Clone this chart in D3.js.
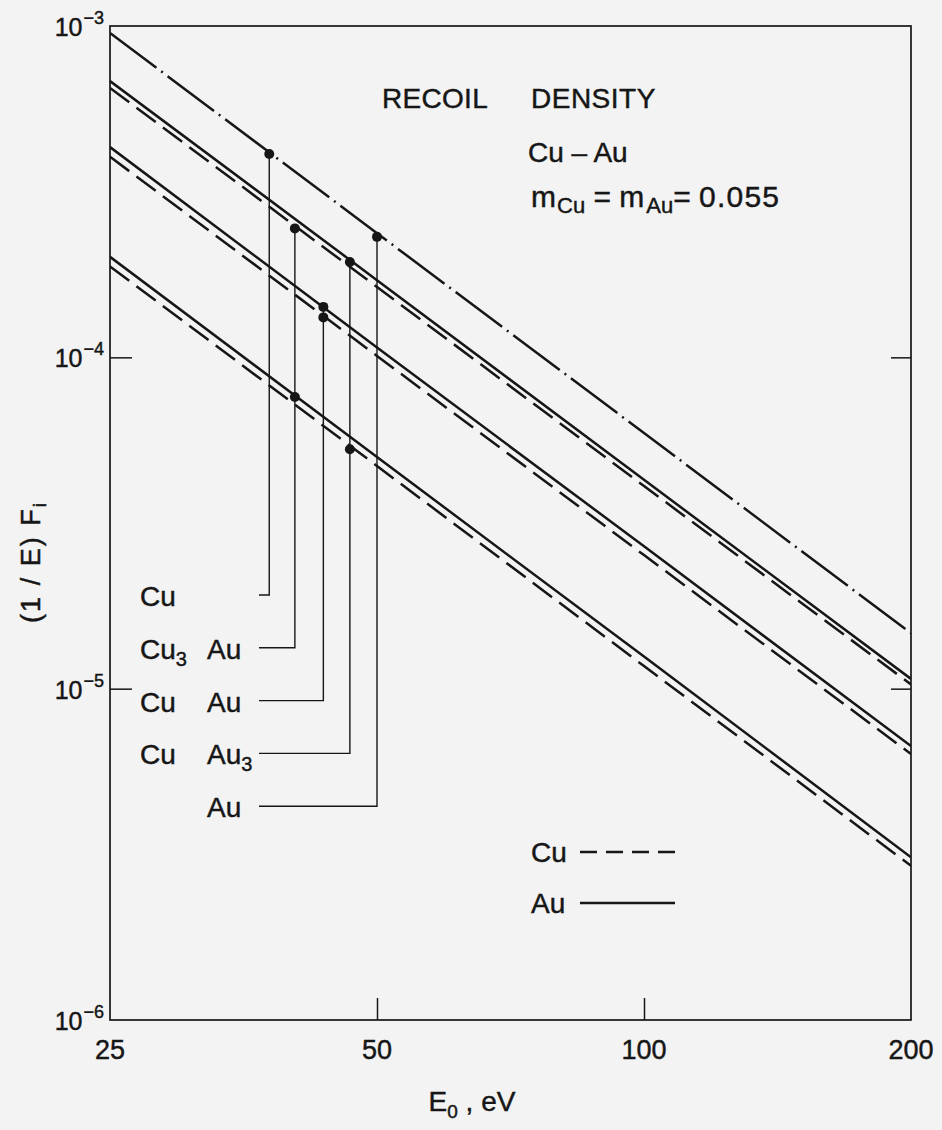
<!DOCTYPE html>
<html>
<head>
<meta charset="utf-8">
<script src="https://cdn.jsdelivr.net/npm/d3@7"></script>
<style>
  html, body { margin: 0; padding: 0; background: #f3f3f3; }
  svg { display: block; font-family: "Liberation Sans", Arial, sans-serif; }
  .lbl { fill: #161616; stroke: #161616; stroke-width: 0.45; }
</style>
</head>
<body>
<div id="chart"></div>
<script>
// values
const energies = [25, 50, 100, 200];
const xTickValues = [25, 50, 100, 200];
const yTickExps = [-3, -4, -5, -6];

const dashDotLine = [9.53e-4, 2.37e-4, 5.91e-5, 1.47e-5];
const auUpper = [6.82e-4, 1.71e-4, 4.27e-5, 1.07e-5];
const cuUpper = [6.5e-4, 1.63e-4, 4.09e-5, 1.03e-5];
const auMiddle = [4.31e-4, 1.07e-4, 2.69e-5, 6.71e-6];
const cuMiddle = [4.03e-4, 1.01e-4, 2.53e-5, 6.35e-6];
const auLower = [2.01e-4, 5.0e-5, 1.25e-5, 3.1e-6];
const cuLower = [1.88e-4, 4.7e-5, 1.17e-5, 2.92e-6];

const compounds = ["Cu", "Cu3Au", "CuAu", "CuAu3", "Au"];
const markerEnergies = [37.8, 40.4, 43.5, 46.6, 50.0];
const markerValues = [
  [4.11e-4],
  [2.45e-4, 7.59e-5],
  [1.42e-4, 1.32e-4],
  [1.94e-4, 5.28e-5],
  [2.31e-4]
];

const width = 942,
  height = 1130,
  margin = { top: 26, right: 31, bottom: 110, left: 110 },
  plotW = width - margin.left - margin.right,
  plotH = height - margin.top - margin.bottom;

const ink = "#161616";

const svg = d3
  .select("#chart")
  .append("svg")
  .attr("width", width)
  .attr("height", height);

const xScale = d3
  .scaleLog()
  .domain([25, 200])
  .range([0, plotW]);

const yScale = d3
  .scaleLog()
  .domain([1e-6, 1e-3])
  .range([plotH, 0]);

const chart = svg
  .append("g")
  .attr("transform", `translate(${margin.left}, ${margin.top})`);

chart
  .append("clipPath")
  .attr("id", "clip")
  .append("rect")
  .attr("width", plotW)
  .attr("height", plotH);

// inner ticks
const tickLen = 22;
chart
  .append("g")
  .call(d3.axisLeft(yScale).tickValues([1e-4, 1e-5]).tickSize(-tickLen).tickFormat(""))
  .call(g => g.select(".domain").remove());
chart
  .append("g")
  .attr("transform", `translate(${plotW}, 0)`)
  .call(d3.axisRight(yScale).tickValues([1e-4, 1e-5]).tickSize(-20).tickFormat(""))
  .call(g => g.select(".domain").remove());
chart
  .append("g")
  .attr("transform", `translate(0, ${plotH})`)
  .call(d3.axisBottom(xScale).tickValues([50, 100]).tickSize(-tickLen).tickFormat(""))
  .call(g => g.select(".domain").remove());
chart.selectAll(".tick line").attr("stroke", ink).attr("stroke-width", 1.5);

chart
  .append("rect")
  .attr("width", plotW)
  .attr("height", plotH)
  .attr("fill", "none")
  .attr("stroke", ink)
  .attr("stroke-width", 1.7);

// x tick labels
chart
  .selectAll(".xlab")
  .data(xTickValues)
  .enter()
  .append("text")
  .attr("class", "lbl")
  .attr("x", d => xScale(d))
  .attr("y", plotH + 39)
  .attr("text-anchor", "middle")
  .attr("font-size", 27)
  .text(d => d);

// y tick labels 10^n
const ylab = chart
  .selectAll(".ylab")
  .data(yTickExps)
  .enter()
  .append("text")
  .attr("class", "lbl")
  .attr("x", -6)
  .attr("y", d => yScale(Math.pow(10, d)) + 10)
  .attr("text-anchor", "end")
  .attr("font-size", 25);
ylab.append("tspan").text("10");
ylab
  .append("tspan")
  .attr("dy", -12)
  .attr("dx", 1)
  .attr("font-size", 18)
  .text(d => "\u2212" + Math.abs(d));

// axis titles
const yTitle = svg
  .append("text")
  .attr("class", "lbl")
  .attr("transform", `translate(40, 562) rotate(-90)`)
  .attr("text-anchor", "middle")
  .attr("font-size", 27)
  .attr("letter-spacing", 2);
yTitle.append("tspan").text("(1 / E) F");
yTitle.append("tspan").attr("font-size", 19).attr("dy", 6).text("i");

const xTitle = svg
  .append("text")
  .attr("class", "lbl")
  .attr("x", 472)
  .attr("y", 1111)
  .attr("text-anchor", "middle")
  .attr("font-size", 28);
xTitle.append("tspan").text("E");
xTitle.append("tspan").attr("font-size", 19).attr("dy", 7).text("0");
xTitle.append("tspan").attr("dy", -7).text(" ,  eV");

// curves
const line = d3
  .line()
  .x((d, i) => xScale(energies[i]))
  .y(d => yScale(d));

const curves = [
  { values: dashDotLine, dash: "58,6,2,6" },
  { values: auUpper, dash: null },
  { values: cuUpper, dash: "24,9" },
  { values: auMiddle, dash: null },
  { values: cuMiddle, dash: "24,9" },
  { values: auLower, dash: null },
  { values: cuLower, dash: "24,9" }
];

chart
  .append("g")
  .attr("clip-path", "url(#clip)")
  .selectAll("path")
  .data(curves)
  .enter()
  .append("path")
  .attr("d", d => line(d.values))
  .attr("fill", "none")
  .attr("stroke", ink)
  .attr("stroke-width", 2.5)
  .attr("stroke-dasharray", d => d.dash);

// compound labels with leader lines
const labelX = 30,
  auX = 97,
  leaderStart = 149,
  firstLeader = 569,
  leaderStep = 52.8;

const parts = {
  Cu: [["Cu", ""], null],
  Cu3Au: [["Cu", "3"], ["Au", ""]],
  CuAu: [["Cu", ""], ["Au", ""]],
  CuAu3: [["Cu", ""], ["Au", "3"]],
  Au: [null, ["Au", ""]]
};

compounds.forEach((c, i) => {
  const ly = firstLeader + i * leaderStep;
  const vx = xScale(markerEnergies[i]);
  const top = yScale(d3.max(markerValues[i]));
  const g = chart.append("g");

  g.append("path")
    .attr("d", `M${leaderStart},${ly}H${vx}V${top}`)
    .attr("fill", "none")
    .attr("stroke", ink)
    .attr("stroke-width", 1.4);

  [labelX, auX].forEach((x, k) => {
    const p = parts[c][k];
    if (!p) return;
    const t = g
      .append("text")
      .attr("class", "lbl")
      .attr("x", x)
      .attr("y", ly + 11)
      .attr("font-size", 28);
    t.append("tspan").text(p[0]);
    if (p[1]) t.append("tspan").attr("font-size", 20).attr("dy", 7).text(p[1]);
  });

  g.selectAll("circle")
    .data(markerValues[i])
    .enter()
    .append("circle")
    .attr("cx", vx)
    .attr("cy", d => yScale(d))
    .attr("r", 5)
    .attr("fill", ink);
});

// annotation text
const note = svg.append("g");
note
  .append("text")
  .attr("class", "lbl")
  .attr("x", 382)
  .attr("y", 108)
  .attr("font-size", 28)
  .attr("letter-spacing", 0.3)
  .text("RECOIL");
note
  .append("text")
  .attr("class", "lbl")
  .attr("x", 531)
  .attr("y", 108)
  .attr("font-size", 28)
  .attr("letter-spacing", 0.5)
  .text("DENSITY");
note
  .append("text")
  .attr("class", "lbl")
  .attr("x", 528)
  .attr("y", 162)
  .attr("font-size", 28)
  .text("Cu \u2013 Au");

const mText = note
  .append("text")
  .attr("class", "lbl")
  .attr("x", 531)
  .attr("y", 207)
  .attr("font-size", 30);
mText.append("tspan").text("m");
mText.append("tspan").attr("font-size", 22).attr("dy", 6).attr("dx", 1).text("Cu");
mText.append("tspan").attr("dy", -6).text(" = m");
mText.append("tspan").attr("font-size", 22).attr("dy", 6).attr("dx", 2).text("Au");
mText.append("tspan").attr("dy", -6).text("= ");
mText.append("tspan").attr("letter-spacing", 1.2).text("0.055");

// legend
const legend = svg.append("g");
[["Cu", "17,9", 852], ["Au", null, 903]].forEach(([name, dash, y]) => {
  legend
    .append("text")
    .attr("class", "lbl")
    .attr("x", 531)
    .attr("y", y + 10)
    .attr("font-size", 28)
    .text(name);
  legend
    .append("line")
    .attr("x1", 580)
    .attr("x2", 675)
    .attr("y1", y)
    .attr("y2", y)
    .attr("stroke", ink)
    .attr("stroke-width", 2.5)
    .attr("stroke-dasharray", dash);
});
</script>
</body>
</html>
